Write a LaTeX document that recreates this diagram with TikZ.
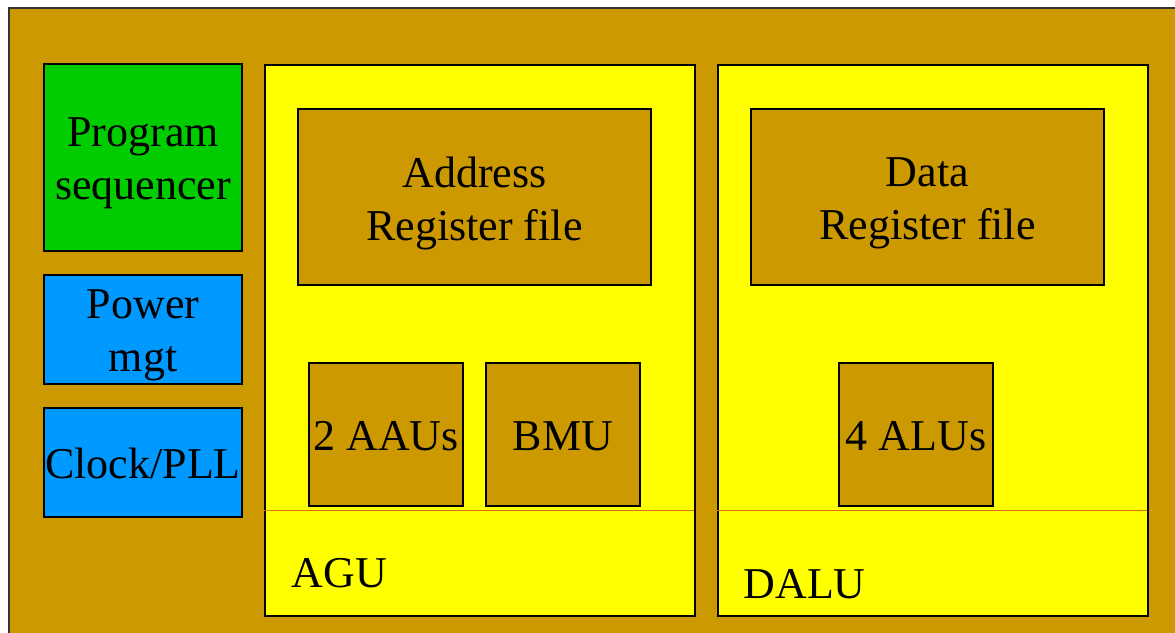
\documentclass[tikz,border=0pt]{standalone}
\usepackage{fontspec}
\setmainfont{Liberation Serif}
\definecolor{chipbg}{HTML}{CC9900}
\definecolor{seqgreen}{HTML}{00CC00}
\definecolor{pwrblue}{HTML}{0099FF}
\definecolor{unityellow}{HTML}{FFFF00}
\definecolor{splitline}{HTML}{E07010}
\tikzset{
  blk/.style={draw=black, line width=2pt, inner sep=0pt, anchor=north west},
  lbl/.style={font=\fontsize{44}{53}\selectfont, align=center, text=black},
  lbltwo/.style={lbl, yshift=-6pt},
}
\begin{document}
\begin{tikzpicture}[x=1pt,y=-1pt]
\useasboundingbox (0,0) rectangle (1175,632);
\clip (0,0) rectangle (1175,632);
\fill[white] (0,0) rectangle (1175,632);
% chip outline
\draw[fill=chipbg, draw=black!80, line width=2pt] (9,8) rectangle (1190,650);
% left column blocks
\node[blk, fill=seqgreen, minimum width=198pt, minimum height=187pt] (seq) at (43,63) {};
\node[lbltwo] at (seq.center) {Program\\sequencer};
\node[blk, fill=pwrblue, minimum width=198pt, minimum height=109pt] (pwr) at (43,274) {};
\node[lbltwo] at (pwr.center) {Power\\mgt};
\node[blk, fill=pwrblue, minimum width=198pt, minimum height=109pt] (clk) at (43,407) {};
\node[lbl, yshift=-1pt] at (clk.center) {Clock/PLL};
% AGU
\node[blk, fill=unityellow, minimum width=430pt, minimum height=551pt] (agu) at (264,64) {};
\coordinate (aguL) at (264,510);
\coordinate (aguR) at (694,510);
\draw[splitline, line width=0.8pt] (aguL) -- (aguR);
\node[lbl, anchor=base west] (agulbl) at (288,587) {AGU};
\node[blk, fill=chipbg, minimum width=353pt, minimum height=176pt] (arf) at (297,108) {};
\node[lbltwo] at (arf.center) {Address\\Register file};
\node[blk, fill=chipbg, minimum width=154pt, minimum height=143pt] (aau) at (308,362) {};
\node[lbl, yshift=-2pt] at (aau.center) {2 AAUs};
\node[blk, fill=chipbg, minimum width=154pt, minimum height=143pt] (bmu) at (485,362) {};
\node[lbl, yshift=-2pt] at (bmu.center) {BMU};
% DALU
\node[blk, fill=unityellow, minimum width=430pt, minimum height=551pt] (dalu) at (717,64) {};
\coordinate (daluL) at (717,510);
\coordinate (daluR) at (1147,510);
\draw[splitline, line width=0.8pt] (daluL) -- (daluR);
\node[lbl, anchor=base west] (dalulbl) at (740,598) {DALU};
\node[blk, fill=chipbg, minimum width=353pt, minimum height=176pt] (drf) at (750,108) {};
\node[lbltwo] at (drf.center) {Data\\Register file};
\node[blk, fill=chipbg, minimum width=154pt, minimum height=143pt] (alu) at (838,362) {};
\node[lbl, yshift=-2pt] at (alu.center) {4 ALUs};
\end{tikzpicture}
\end{document}
